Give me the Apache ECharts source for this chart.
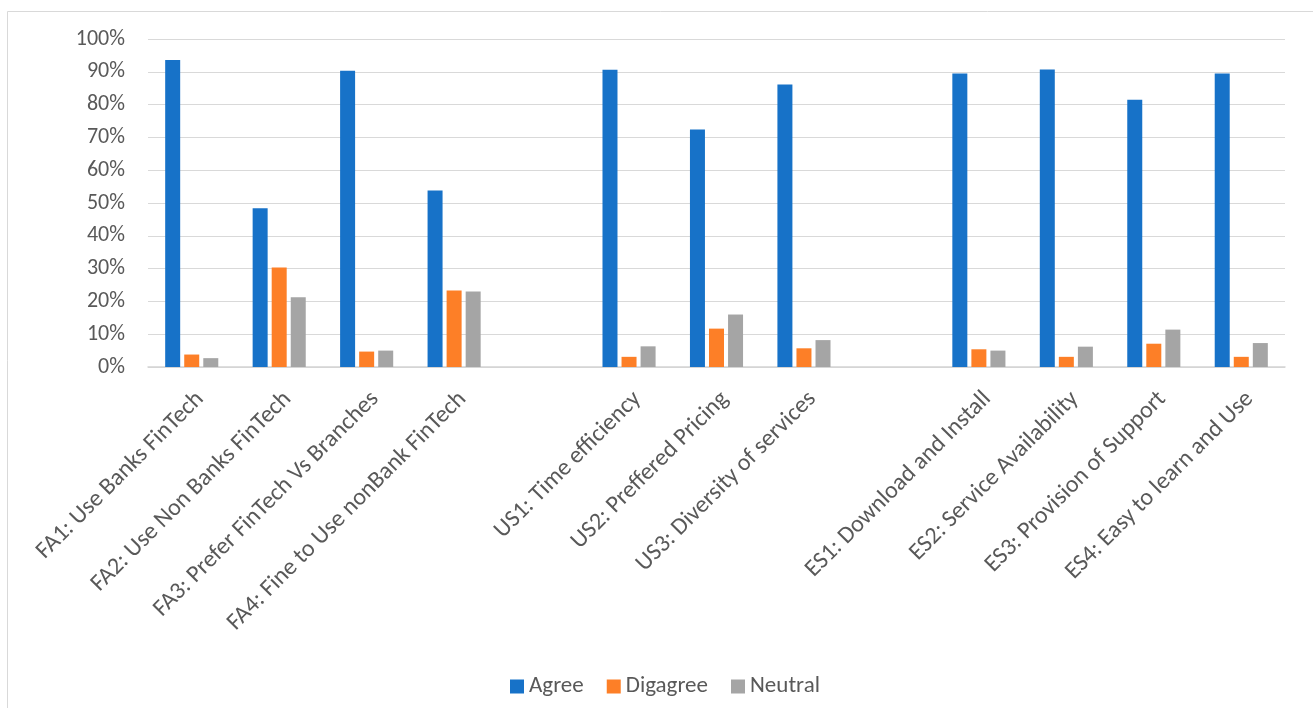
<!DOCTYPE html>
<html>
<head>
    <meta charset="utf-8">
    <title>FinTech survey</title>
    <style>
        html, body { margin: 0; padding: 0; background: #fff; }
        #chart { width: 1313px; height: 708px; }
    </style>
</head>
<body>
<div id="chart"></div>
<script src="https://cdn.jsdelivr.net/npm/echarts@6/dist/echarts.min.js"></script>
<script>
    // categories, blank entries are the gaps between groups
    var categories = ['FA1: Use Banks FinTech', 'FA2: Use Non Banks FinTech', 'FA3: Prefer FinTech Vs Branches',
        'FA4: Fine to Use nonBank FinTech', '', 'US1: Time efficiency', 'US2: Preffered Pricing',
        'US3: Diversity of services', '', 'ES1: Download and Install', 'ES2: Service Availability',
        'ES3: Provision of Support', 'ES4: Easy to learn and Use'];
    var agree    = [93.6, 48.4, 90.3, 53.8, '-', 90.6, 72.4, 86.1, '-', 89.5, 90.7, 81.5, 89.5];
    var disagree = [3.8, 30.3, 4.7, 23.3, '-', 3.1, 11.7, 5.7, '-', 5.4, 3.1, 7.1, 3.1];
    var neutral  = [2.7, 21.3, 5.0, 23.0, '-', 6.3, 16.0, 8.2, '-', 5.0, 6.2, 11.4, 7.3];
    var seriesNames = ['Agree', 'Digagree', 'Neutral'];
    var colors = ['#1772c8', '#fd7f27', '#a5a5a5'];

    var font = 'Carlito, Lato, sans-serif';
    var txt = '#595959';

    function bar(name, data, color) {
        return {
            name: name, type: 'bar', data: data,
            barWidth: 15, barGap: '27%',
            itemStyle: { color: color }
        };
    }

    var option = {
        backgroundColor: '#fff',
        animation: false,
        color: colors,
        textStyle: { fontFamily: font },
        graphic: [{
            type: 'rect', left: 5, top: 9, silent: true,
            shape: { width: 1320, height: 710 },
            style: { fill: 'none', stroke: '#d9d9d9', lineWidth: 1 }
        }],
        grid: { left: 148, right: 28, top: 39, bottom: 341 },
        legend: {
            left: 505, top: 670,
            itemWidth: 14, itemHeight: 14, itemGap: 23,
            icon: 'rect',
            textStyle: { color: txt, fontSize: 23, fontFamily: font },
            data: seriesNames
        },
        xAxis: {
            type: 'category', data: categories,
            axisTick: { show: false },
            axisLine: { lineStyle: { color: '#d4d4d4', width: 1.5 } },
            axisLabel: {
                interval: 0, rotate: 45, margin: 20,
                verticalAlign: 'top',
                color: txt, fontSize: 24, fontFamily: font
            }
        },
        yAxis: {
            type: 'value', min: 0, max: 100, interval: 10,
            axisLine: { show: false }, axisTick: { show: false },
            splitLine: { lineStyle: { color: '#d9d9d9', width: 1.2 } },
            axisLabel: { formatter: '{value}%', margin: 23, color: txt, fontSize: 22, fontFamily: font }
        },
        series: [
            bar(seriesNames[0], agree, colors[0]),
            bar(seriesNames[1], disagree, colors[1]),
            bar(seriesNames[2], neutral, colors[2])
        ]
    };

    var myChart = echarts.init(document.getElementById('chart'));
    myChart.setOption(option);
</script>
</body>
</html>
